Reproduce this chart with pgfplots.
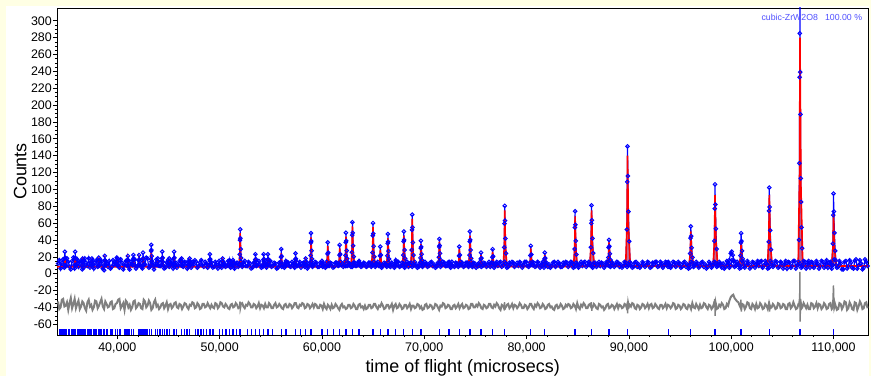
\documentclass[border=0pt]{standalone}
\usepackage{fontspec}
\setmainfont{Liberation Sans}
\usepackage{pgfplots}
\pgfplotsset{compat=1.18}
\usepackage{pgfplotstable}
\definecolor{bgyellow}{RGB}{255,255,228}
\definecolor{obsblue}{RGB}{0,0,255}
\definecolor{calcred}{RGB}{255,0,0}
\definecolor{diffgray}{RGB}{128,128,128}
\definecolor{phasefill}{RGB}{165,40,100}
\definecolor{labelblue}{RGB}{80,80,255}
\pgfplotstableread{
x o d
34200 12 -33
34325 16 -42
34450 6 -40
34575 13 -31
34700 17 -30
34825 7 -39
34950 9 -38
35075 18 -34
35200 14 -43
35325 8 -35
35450 5 -29
35575 15 -41
35700 19 -36
35825 6 -30
35950 11 -41
36075 17 -36
36200 8 -32
36325 14 -42
36450 15 -39
36575 5 -33
36700 7 -35
36825 18 -41
36950 13 -44
37075 9 -34
37200 18 -31
37325 7 -39
37450 10 -37
37575 16 -43
37700 6 -40
37825 13 -32
37950 16 -33
38075 8 -41
38200 9 -38
38325 17 -34
38450 14 -30
38575 6 -39
38700 4 -42
38825 15 -33
38950 12 -36
39075 8 -40
39200 15 -39
39325 6 -34
39450 8 -33
39575 16 -42
39700 11 -41
39825 14 -36
39950 19 -35
40075 9 -31
40200 7 -30
40325 17 -41
40450 13 -38
40575 5 -35
40700 10 -43
40825 15 -32
40950 16 -34
41075 8 -40
41200 5 -37
41325 14 -43
41450 12 -40
41575 18 -33
41700 17 -32
41825 6 -41
41950 9 -39
42075 16 -35
42200 14 -36
42325 8 -41
42450 6 -42
42575 15 -31
42700 11 -33
42825 19 -40
42950 18 -38
43075 7 -32
43200 8 -35
43325 14 -43
43450 13 -41
43575 5 -34
43700 10 -31
43825 17 -39
43950 15 -37
44075 9 -42
44200 9 -40
44325 15 -36
44450 14 -35
44575 6 -41
44700 7 -38
44825 13 -34
44950 16 -42
45075 8 -37
45200 11 -36
45325 15 -41
45450 6 -39
45575 12 -35
45700 13 -34
45825 7 -40
45950 10 -41
46075 15 -36
46200 17 -37
46325 9 -42
46450 8 -39
46575 14 -35
46700 12 -36
46825 6 -40
46950 15 -42
47075 9 -37
47200 7 -38
47325 14 -34
47450 11 -35
47575 16 -41
47700 14 -40
47825 7 -35
47950 9 -37
48075 13 -42
48200 16 -41
48325 10 -36
48450 8 -36
48575 14 -40
48700 12 -39
48825 7 -35
48950 10 -38
49075 15 -41
49200 13 -37
49325 7 -40
49450 8 -41
49575 14 -35
49700 11 -36
49825 6 -41
49950 15 -39
50075 9 -34
50200 7 -35
50325 14 -39
50450 12 -40
50575 8 -36
50700 9 -38
50825 15 -41
50950 14 -42
51075 7 -37
51200 10 -36
51325 13 -40
51450 6 -39
51575 12 -35
51700 13 -37
51825 8 -41
51950 11 -40
52075 14 -36
52200 8 -35
52325 13 -39
52450 15 -41
52575 9 -37
52700 9 -38
52825 14 -34
52950 12 -36
53075 6 -40
53200 7 -40
53325 13 -36
53450 14 -37
53575 9 -41
53700 10 -39
53825 15 -35
53950 11 -41
54075 7 -37
54200 8 -38
54325 14 -41
54450 13 -36
54575 7 -40
54700 10 -40
54825 14 -35
54950 15 -37
55075 8 -41
55200 9 -41
55325 13 -37
55450 12 -35
55575 6 -40
55700 7 -39
55825 13 -36
55950 14 -38
56075 8 -41
56200 11 -42
56325 7 -37
56450 9 -36
56575 14 -40
56700 13 -40
56825 9 -36
56950 8 -37
57075 14 -41
57200 12 -39
57325 7 -35
57450 15 -35
57575 9 -40
57700 10 -41
57825 14 -37
57950 7 -38
58075 12 -35
58200 13 -36
58325 8 -41
58450 11 -40
58575 6 -36
58700 9 -37
58825 13 -41
58950 14 -39
59075 8 -36
59200 10 -40
59325 14 -36
59450 13 -37
59575 8 -41
59700 8 -41
59825 13 -37
59950 12 -38
60075 8 -42
60200 11 -36
60325 7 -40
60450 14 -42
60575 9 -37
60700 9 -39
60825 13 -42
60950 12 -37
61075 7 -41
61200 8 -40
61325 13 -36
61450 13 -38
61575 9 -41
61700 10 -43
61825 14 -38
61950 11 -36
62075 8 -40
62200 14 -39
62325 9 -42
62450 9 -41
62575 13 -37
62700 12 -37
62825 8 -41
62950 8 -40
63075 13 -36
63200 13 -38
63325 9 -42
63450 10 -42
63575 14 -37
63700 12 -36
63825 8 -40
63950 9 -39
64075 13 -42
64200 12 -38
64325 8 -42
64450 9 -41
64575 13 -37
64700 13 -37
64825 8 -41
64950 10 -40
65075 14 -36
65200 8 -36
65325 12 -40
65450 14 -42
65575 9 -38
65700 11 -39
65825 7 -35
65950 9 -38
66075 13 -42
66200 12 -41
66325 8 -37
66450 13 -37
66575 9 -41
66700 8 -39
66825 13 -36
66950 11 -43
67075 7 -38
67200 10 -36
67325 14 -41
67450 14 -40
67575 8 -36
67700 9 -38
67825 13 -42
67950 12 -41
68075 7 -37
68200 11 -37
68325 14 -41
68450 8 -39
68575 12 -36
68700 13 -42
68825 8 -38
68950 10 -38
69075 14 -41
69200 11 -40
69325 7 -36
69450 8 -37
69575 13 -41
69700 13 -39
69825 8 -43
69950 10 -42
70075 14 -37
70200 12 -36
70325 8 -41
70450 9 -40
70575 13 -37
70700 14 -38
70825 9 -42
70950 11 -41
71075 7 -36
71200 8 -37
71325 13 -40
71450 12 -43
71575 8 -38
71700 10 -39
71825 14 -35
71950 13 -36
72075 9 -41
72200 9 -40
72325 13 -37
72450 11 -38
72575 7 -42
72700 14 -42
72825 9 -38
72950 8 -37
73075 13 -41
73200 12 -39
73325 8 -36
73450 10 -41
73575 14 -38
73700 13 -36
73825 8 -41
73950 9 -40
74075 13 -37
74200 13 -38
74325 8 -42
74450 10 -41
74575 14 -36
74700 8 -36
74825 13 -40
74950 12 -40
75075 7 -37
75200 11 -39
75325 9 -35
75450 14 -37
75575 8 -41
75700 9 -42
75825 13 -37
75950 12 -38
76075 8 -41
76200 10 -40
76325 14 -36
76450 8 -36
76575 13 -40
76700 13 -41
76825 7 -37
76950 11 -39
77075 14 -35
77200 9 -37
77325 13 -41
77450 14 -43
77575 8 -37
77700 10 -38
77825 14 -42
77950 12 -40
78075 7 -37
78200 8 -36
78325 13 -41
78450 11 -39
78575 14 -36
78700 13 -41
78825 8 -37
78950 10 -38
79075 13 -41
79200 9 -39
79325 14 -35
79450 12 -37
79575 7 -41
79700 10 -41
79825 14 -37
79950 14 -38
80075 9 -42
80200 8 -40
80325 13 -36
80450 11 -36
80575 14 -40
80700 13 -42
80825 8 -37
80950 9 -39
81075 14 -35
81200 12 -37
81325 7 -41
81450 10 -40
81575 14 -36
81700 7 -38
81825 12 -42
81950 13 -41
82075 8 -37
82200 11 -36
82325 7 -40
82450 9 -39
82575 13 -42
82700 14 -43
82825 8 -38
82950 10 -37
83075 14 -41
83200 12 -40
83325 8 -36
83450 8 -38
83575 13 -42
83700 11 -41
83825 14 -37
83950 13 -39
84075 8 -36
84200 10 -37
84325 14 -41
84450 13 -40
84575 7 -36
84700 8 -38
84825 13 -42
84950 12 -35
85075 7 -40
85200 11 -42
85325 14 -37
85450 9 -39
85575 13 -35
85700 14 -37
85825 8 -41
85950 10 -41
86075 14 -37
86200 12 -36
86325 9 -40
86450 7 -40
86575 13 -36
86700 13 -38
86825 8 -41
86950 10 -42
87075 14 -36
87200 9 -37
87325 13 -40
87450 12 -39
87575 7 -43
87700 11 -41
87825 14 -37
87950 14 -36
88075 9 -41
88200 8 -40
88325 13 -37
88450 12 -38
88575 8 -42
88700 10 -39
88825 14 -36
88950 13 -41
89075 8 -37
89200 11 -38
89325 7 -41
89450 9 -40
89575 14 -36
89700 13 -37
89825 8 -42
89950 10 -41
90075 14 -37
90200 12 -39
90325 7 -35
90450 8 -36
90575 13 -41
90700 14 -42
90825 8 -37
90950 11 -38
91075 7 -42
91200 9 -40
91325 14 -36
91450 12 -37
91575 8 -41
91700 10 -39
91825 14 -36
91950 13 -41
92075 7 -37
92200 8 -36
92325 13 -41
92450 11 -40
92575 14 -36
92700 14 -38
92825 8 -41
92950 9 -42
93075 14 -37
93200 12 -37
93325 7 -41
93450 10 -39
93575 14 -36
93700 13 -41
93825 8 -37
93950 11 -38
94075 7 -41
94200 9 -39
94325 14 -35
94450 13 -36
94575 8 -42
94700 10 -41
94825 14 -37
94950 12 -38
95075 7 -42
95200 8 -40
95325 13 -36
95450 14 -37
95575 8 -41
95700 11 -42
95825 6 -37
95950 7 -38
96075 14 -42
96200 13 -35
96325 8 -40
96450 10 -41
96575 14 -36
96700 12 -39
96825 7 -42
96950 9 -37
97075 13 -41
97200 14 -40
97325 8 -35
97450 11 -36
97575 6 -40
97700 8 -42
97825 14 -37
97950 12 -38
98075 7 -42
98200 10 -40
98325 14 -35
98450 13 -37
98575 8 -42
98700 9 -41
98825 14 -37
98950 12 -39
99075 7 -35
99200 12 -37
99325 6 -42
99450 8 -41
99575 15 -36
99700 13 -38
99825 7 -32
99950 10 -28
100075 16 -26
100200 15 -25
100325 8 -29
100450 9 -31
100575 14 -33
100700 11 -34
100825 6 -38
100950 7 -41
101075 15 -36
101200 14 -37
101325 7 -42
101450 10 -39
101575 15 -34
101700 12 -35
101825 6 -41
101950 8 -42
102075 14 -36
102200 13 -38
102325 7 -42
102450 11 -36
102575 15 -41
102700 9 -40
102825 14 -35
102950 15 -37
103075 7 -42
103200 10 -41
103325 15 -36
103450 12 -38
103575 6 -42
103700 7 -35
103825 15 -41
103950 13 -40
104075 8 -36
104200 10 -38
104325 15 -42
104450 14 -41
104575 7 -35
104700 8 -36
104825 14 -41
104950 12 -40
105075 6 -36
105200 11 -37
105325 15 -42
105450 6 -42
105575 14 -36
105700 13 -35
105825 7 -41
105950 9 -39
106075 15 -34
106200 15 -38
106325 6 -42
106450 10 -41
106575 14 -36
106700 12 -36
106825 7 -42
106950 8 -40
107075 15 -35
107200 14 -38
107325 6 -41
107450 11 -37
107575 15 -42
107700 7 -42
107825 14 -35
107950 13 -36
108075 7 -41
108200 10 -39
108325 15 -35
108450 12 -41
108575 6 -36
108700 9 -37
108825 15 -42
108950 14 -40
109075 7 -35
109200 11 -37
109325 16 -42
109450 7 -41
109575 13 -36
109700 14 -35
109825 6 -42
109950 10 -40
110075 17 -33
110200 16 -38
110325 7 -43
110450 8 -42
110575 15 -35
110700 12 -36
110825 5 -42
110950 5 -39
111075 14 -33
111200 15 -34
111325 6 -43
111450 9 -41
111575 16 -34
111700 13 -37
111825 7 -42
111950 6 -43
112075 15 -34
112200 17 -35
112325 6 -43
112450 10 -39
112575 16 -33
112700 12 -36
112825 5 -42
112950 7 -41
113075 17 -35
113200 14 -34
113325 9 -41
}\bgdata
\pgfplotstableread{
x y
34100 8
34776 8
34844 12.8
34866 20
34911 12.2
35001 8
35785 8
35853 12.4
35875 19
35920 11.9
36010 8
36554 8
36599 14
36689 8
37458 8
37503 13
37593 8
38146 8
38191 14
38281 8
38724 8
38769 15
38859 8
39966 8
40011 14
40101 8
40982 8
41027 16
41117 8
41518 8
41563 17
41653 8
42078 8
42123 16
42213 8
42419 8
42487 12.4
42509 19
42554 11.9
42644 8
43223 8
43291 15.6
43313 27
43358 14.7
43448 8
43903 8
43948 13
44038 8
44297 8
44365 13.2
44387 21
44432 12.6
44522 8
45025 8
45070 13
45160 8
45454 8
45522 13.2
45544 21
45589 12.6
45679 8
46240 8
46285 14
46375 8
47017 8
47062 13
47152 8
48932 8
49014 12
49042 18
49097 11.5
49207 8
50238 8
50293 14
50403 8
50900 8
50955 12
51065 8
51242 8
51297 12
51407 8
51891 8
51973 24
52001 48
52056 22
52166 8
53390 8
53472 12.4
53500 19
53555 11.9
53665 8
54190 8
54272 12.4
54300 19
54355 11.9
54465 8
54604 8
54686 12.4
54714 19
54769 11.9
54879 8
55906 8
55988 14.4
56016 24
56071 13.6
56181 8
56416 8
56471 12
56581 8
57305 8
57387 12.4
57415 19
57470 11.9
57580 8
58354 8
58409 14
58519 8
58816 8
58898 22
58926 43
58981 20.3
59091 8
59932 8.5
60002 12
60142 8.5
60422 8.5
60527 18.3
60562 33
60632 17.1
60772 8.5
61593 8.5
61698 17.1
61733 30
61803 16
61943 8.5
62204 8.5
62309 22.7
62344 44
62414 20.9
62554 8.5
62836 8.5
62941 27.5
62976 56
63046 25.1
63186 8.5
63555 8.5
63625 12
63765 8.5
64847 8.5
64952 27.1
64987 55
65057 24.8
65197 8.5
65563 8.5
65668 16.3
65703 28
65773 15.3
65913 8.5
66303 8.5
66408 21.9
66443 42
66513 20.2
66653 8.5
67137 8.5
67207 13
67347 8.5
67860 8.5
67965 23.1
68000 45
68070 21.3
68210 8.5
68680 8.5
68785 31.1
68820 65
68890 28.3
69030 8.5
69531 8.5
69636 19.1
69671 35
69741 17.8
69881 8.5
71335 8.5
71440 20.3
71475 38
71545 18.8
71685 8.5
72359 8.5
72429 11
72569 8.5
73285 8.5
73390 16.7
73425 29
73495 15.7
73635 8.5
74323 8.5
74428 23.1
74463 45
74533 21.3
74673 8.5
75405 8.5
75510 13.9
75545 22
75615 13.2
75755 8.5
76537 8.5
76642 15.5
76677 26
76747 14.6
76887 8.5
77723 8.5
77828 35.1
77863 75
77933 31.8
78073 8.5
80267 8.5
80372 17.1
80407 30
80477 16
80617 8.5
81637 8.5
81742 13.9
81777 22
81847 13.2
81987 8.5
84600 8.5
84705 32.3
84740 68
84810 29.3
84950 8.5
86171 9
86306 35.4
86351 75
86441 32.1
86621 9
87875 9
88010 20.2
88055 37
88145 18.8
88325 9
89685 9
89820 61.4
89865 140
89955 54.9
90135 9
93759 9
93849 12
94029 9
95871 9
96006 25.4
96051 50
96141 23.4
96321 9
98236 9
98371 42.6
98416 93
98506 38.4
98686 9
100785 9
100920 19.8
100965 36
101055 18.5
101235 9
103545 9
103680 42.6
103725 93
103815 38.4
103995 9
106544 9
106679 117.4
106724 280
106814 103.9
106994 9
109820 9
109955 33.4
110000 70
110090 30.4
110270 9
113400 9
}\calcdata
\begin{document}
\begin{tikzpicture}
\fill[bgyellow] (0,0) rectangle (871bp,376bp);
\fill[white] (6bp,0) rectangle (869bp,370bp);
\begin{axis}[
  at={(57bp,41bp)}, anchor=south west, scale only axis,
  width=811.3bp, height=327bp,
  xmin=34100, xmax=113400, ymin=-72.8, ymax=315.1,
  xtick={40000,50000,60000,70000,80000,90000,100000,110000},
  xticklabels={{40,000},{50,000},{60,000},{70,000},{80,000},{90,000},{100,000},{110,000}},
  ytick={-60,-40,-20,0,20,40,60,80,100,120,140,160,180,200,220,240,260,280,300},
  yticklabels={-60,-40,-20,0,20,40,60,80,100,120,140,160,180,200,220,240,260,280,300},
  minor x tick num=4, minor y tick num=3,
  scaled x ticks=false, scaled y ticks=false,
  tick align=outside, xtick pos=bottom, ytick pos=left,
  major tick length=4bp, minor tick length=2bp,
  tick style={black, line width=0.5pt},
  axis line style={black, line width=0.9pt},
  ticklabel style={font=\fontsize{12.5}{14}\selectfont},
  yticklabel style={inner xsep=1bp},
  label style={font=\fontsize{18}{20}\selectfont},
  xlabel={time of flight (microsecs)}, ylabel={Counts},
  clip=true,
]
% difference curve
\addplot[diffgray, line width=2pt] table[x=x, y=d] {\bgdata};
\addplot[diffgray, line width=1.4pt] coordinates {(51940,-38)(51990,-33)(52015,-42)(52080,-38)};
\addplot[diffgray, line width=1.4pt] coordinates {(77800,-38)(77845,-34)(77875,-43)(77930,-38)};
\addplot[diffgray, line width=1.4pt] coordinates {(86290,-38)(86330,-34)(86370,-44)(86430,-38)};
\addplot[diffgray, line width=1.4pt] coordinates {(89760,-38)(89840,-35)(89875,-47)(89920,-33)(90020,-39)};
\addplot[diffgray, line width=1.4pt] coordinates {(98300,-39)(98390,-30)(98430,-50)(98480,-33)(98600,-40)};
\addplot[diffgray, line width=1.4pt] coordinates {(100900,-38)(100950,-31)(100990,-45)(101060,-37)};
\addplot[diffgray, line width=1.4pt] coordinates {(103660,-38)(103705,-33)(103745,-45)(103810,-37)};
\addplot[diffgray, line width=1.4pt] coordinates {(106600,-38)(106690,-28)(106712,2)(106740,-57)(106775,-30)(106900,-40)};
\addplot[diffgray, line width=1.4pt] coordinates {(109920,-39)(109995,-14)(110030,-30)(110060,-42)(110150,-38)};
% reflection markers
\addplot[obsblue, only marks, mark=|, mark size=3pt, mark options={line width=1.3pt}] coordinates {
(110000,-69.5)(106724,-69.5)(103725,-69.5)(100965,-69.5)(98416,-69.5)(96051,-69.5)(93849,-69.5)(89865,-69.5)(88055,-69.5)(86351,-69.5)
(84740,-69.5)(81777,-69.5)(80407,-69.5)(77863,-69.5)(76677,-69.5)(75545,-69.5)(74463,-69.5)(73425,-69.5)(72429,-69.5)(71475,-69.5)
(69671,-69.5)(68820,-69.5)(68000,-69.5)(67207,-69.5)(66443,-69.5)(65703,-69.5)(64987,-69.5)(63625,-69.5)(62976,-69.5)(62344,-69.5)
(61733,-69.5)(61140,-69.5)(60562,-69.5)(60002,-69.5)(58926,-69.5)(58409,-69.5)(57906,-69.5)(57415,-69.5)(56471,-69.5)(56016,-69.5)
(55138,-69.5)(54714,-69.5)(54300,-69.5)(53895,-69.5)(53500,-69.5)(53113,-69.5)(52734,-69.5)(52001,-69.5)(51644,-69.5)(51297,-69.5)
(50955,-69.5)(50620,-69.5)(50293,-69.5)(49971,-69.5)(49346,-69.5)(49042,-69.5)(48744,-69.5)(48451,-69.5)(48163,-69.5)(47882,-69.5)
(47604,-69.5)(47062,-69.5)(46798,-69.5)(46540,-69.5)(46285,-69.5)(45787,-69.5)(45544,-69.5)(45070,-69.5)(44839,-69.5)(44611,-69.5)
(44387,-69.5)(44166,-69.5)(43948,-69.5)(43733,-69.5)(43313,-69.5)(43107,-69.5)(42905,-69.5)(42705,-69.5)(42509,-69.5)(42315,-69.5)
(42123,-69.5)(41563,-69.5)(41382,-69.5)(41203,-69.5)(41027,-69.5)(40852,-69.5)(40679,-69.5)(40341,-69.5)(40176,-69.5)(40011,-69.5)
(39850,-69.5)(39532,-69.5)(39375,-69.5)(39069,-69.5)(38918,-69.5)(38769,-69.5)(38623,-69.5)(38476,-69.5)(38333,-69.5)(38191,-69.5)
(37911,-69.5)(37773,-69.5)(37637,-69.5)(37503,-69.5)(37370,-69.5)(37237,-69.5)(37107,-69.5)(36851,-69.5)(36724,-69.5)(36599,-69.5)
(36475,-69.5)(36353,-69.5)(36232,-69.5)(36112,-69.5)(35875,-69.5)(35759,-69.5)(35643,-69.5)(35529,-69.5)(35303,-69.5)(35193,-69.5)
(34974,-69.5)(34866,-69.5)(34759,-69.5)(34653,-69.5)(34547,-69.5)(34444,-69.5)(34340,-69.5)};
% observed background
\addplot[obsblue, line width=1.2pt, mark=o, mark size=1.8pt, mark options={line width=1pt}] table[x=x, y=o] {\bgdata};
% observed peaks
\addplot[obsblue, line width=1.1pt, mark=o, mark size=1.8pt, mark options={line width=1pt}] coordinates {
(34798,10)(34848,18)(34866,26)(34898,18.8)(34956,10)
(35807,10)(35857,18)(35875,26)(35907,18.8)(35965,10)
(36531,10)(36581,14)(36599,18)(36631,14.4)(36689,10)
(37435,10)(37485,14)(37503,18)(37535,14.4)(37593,10)
(38123,10)(38173,14.5)(38191,19)(38223,15)(38281,10)
(38701,10)(38751,15.5)(38769,21)(38801,16)(38859,10)
(39943,10)(39993,14)(40011,18)(40043,14.4)(40101,10)
(40959,10)(41009,15.5)(41027,21)(41059,16)(41117,10)
(41495,10)(41545,16)(41563,22)(41595,16.6)(41653,10)
(42055,10)(42105,16)(42123,22)(42155,16.6)(42213,10)
(42441,10)(42491,17.5)(42509,25)(42541,18.3)(42599,10)
(43223,10)(43281,17.2)(43299,26.8)(43313,34)(43331,28)(43358,20.8)(43394,14.8)(43448,10)
(43880,10)(43930,14)(43948,18)(43980,14.4)(44038,10)
(44319,10)(44369,18)(44387,26)(44419,18.8)(44477,10)
(45002,10)(45052,14)(45070,18)(45102,14.4)(45160,10)
(45476,10)(45526,18)(45544,26)(45576,18.8)(45634,10)
(46217,10)(46267,14)(46285,18)(46317,14.4)(46375,10)
(46994,10)(47044,14)(47062,18)(47094,14.4)(47152,10)
(48959,10)(49020,16.5)(49042,23)(49081,17.2)(49152,10)
(50210,10)(50271,14)(50293,18)(50332,14.4)(50403,10)
(50872,10)(50933,13)(50955,16)(50994,13.3)(51065,10)
(51214,10)(51275,13)(51297,16)(51336,13.3)(51407,10)
(51891,10)(51962,22.8)(51984,39.8)(52001,52.5)(52023,41.9)(52056,29.1)(52100,18.5)(52166,10)
(53417,10)(53478,16.5)(53500,23)(53539,17.2)(53610,10)
(54217,10)(54278,16.5)(54300,23)(54339,17.2)(54410,10)
(54631,10)(54692,16.5)(54714,23)(54753,17.2)(54824,10)
(55933,10)(55994,19.5)(56016,29)(56055,20.5)(56126,10)
(56388,10)(56449,12.5)(56471,15)(56510,12.8)(56581,10)
(57332,10)(57393,17)(57415,24)(57454,17.7)(57525,10)
(58326,10)(58387,14)(58409,18)(58448,14.4)(58519,10)
(58816,10)(58887,21.4)(58909,36.6)(58926,48)(58948,38.5)(58981,27.1)(59025,17.6)(59091,10)
(59897,10)(59974,12.5)(60002,15)(60051,12.8)(60142,10)
(60457,10)(60534,23.5)(60562,37)(60611,24.9)(60702,10)
(61628,10)(61705,22)(61733,34)(61782,23.2)(61873,10)
(62204,10)(62295,21.6)(62323,37)(62344,48.5)(62372,38.9)(62414,27.3)(62470,17.7)(62554,10)
(62836,10)(62927,25.3)(62955,45.7)(62976,61)(63004,48.3)(63046,33)(63102,20.2)(63186,10)
(63520,10)(63597,12.5)(63625,15)(63674,12.8)(63765,10)
(64847,10)(64938,25)(64966,45)(64987,60)(65015,47.5)(65057,32.5)(65113,20)(65197,10)
(65598,10)(65675,21)(65703,32)(65752,22.1)(65843,10)
(66303,10)(66394,21.1)(66422,35.9)(66443,47)(66471,37.8)(66513,26.7)(66569,17.4)(66653,10)
(67102,10)(67179,13)(67207,16)(67256,13.3)(67347,10)
(67860,10)(67951,22)(67979,38)(68000,50)(68028,40)(68070,28)(68126,18)(68210,10)
(68680,10)(68771,28)(68799,52)(68820,70)(68848,55)(68890,37)(68946,22)(69030,10)
(69531,10)(69622,18.7)(69650,30.3)(69671,39)(69699,31.8)(69741,23.1)(69797,15.8)(69881,10)
(71335,10)(71426,19.3)(71454,31.7)(71475,41)(71503,33.3)(71545,24)(71601,16.2)(71685,10)
(72324,10)(72401,12)(72429,14)(72478,12.2)(72569,10)
(73320,10)(73397,21)(73425,32)(73474,22.1)(73565,10)
(74323,10)(74414,22)(74442,38)(74463,50)(74491,40)(74533,28)(74589,18)(74673,10)
(75440,10)(75517,17.5)(75545,25)(75594,18.3)(75685,10)
(76572,10)(76649,19.5)(76677,29)(76726,20.5)(76817,10)
(77723,10)(77814,31.2)(77842,59.4)(77863,80.5)(77891,62.9)(77933,41.7)(77989,24.1)(78073,10)
(80302,10)(80379,21.5)(80407,33)(80456,22.7)(80547,10)
(81672,10)(81749,17.5)(81777,25)(81826,18.3)(81917,10)
(84600,10)(84691,29.2)(84719,54.8)(84740,74)(84768,58)(84810,38.8)(84866,22.8)(84950,10)
(86171,10)(86288,31.3)(86324,59.7)(86351,81)(86387,63.3)(86441,41.9)(86513,24.2)(86621,10)
(87875,10)(87992,19)(88028,31)(88055,40)(88091,32.5)(88145,23.5)(88217,16)(88325,10)
(89685,10)(89802,52.3)(89838,108.7)(89865,151)(89901,115.8)(89955,73.5)(90027,38.2)(90135,10)
(93714,10)(93813,12)(93849,14)(93912,12.2)(94029,10)
(95871,10)(95988,23.8)(96024,42.2)(96051,56)(96087,44.5)(96141,30.7)(96213,19.2)(96321,10)
(98236,10)(98353,38.8)(98389,77.2)(98416,106)(98452,82)(98506,53.2)(98578,29.2)(98686,10)
(99600,10)(99800,16)(99950,24)(100050,26)(100150,22)(100300,15)(100500,10)
(100785,10)(100902,21.4)(100938,36.6)(100965,48)(101001,38.5)(101055,27.1)(101127,17.6)(101235,10)
(103545,10)(103662,37.6)(103698,74.4)(103725,102)(103761,79)(103815,51.4)(103887,28.4)(103995,10)
(106544,10)(106630,40)(106664,131)(106690,233)(106710,285)(106724,330)(106745,239)(106770,189)(106800,113)(106830,85)(106870,55)(106930,30)(106994,10)
(109820,10)(109937,35.5)(109973,69.5)(110000,95)(110036,73.8)(110090,48.3)(110162,27)(110270,10)};
% calculated: phase fill, then line
\addplot[fill=phasefill, fill opacity=0.7, draw=none, forget plot] table[x=x, y=y] {\calcdata};
\addplot[calcred, line width=1.6pt] table[x=x, y=y] {\calcdata};
\node[anchor=east, text=labelblue, font=\fontsize{8.8}{10}\selectfont, inner sep=0pt] at (rel axis cs:0.9926,0.970) {cubic-ZrW2O8\hspace{7bp}100.00 \%};
\end{axis}
\pgfresetboundingbox
\path[use as bounding box] (0,0) rectangle (871bp,376bp);
\end{tikzpicture}
\end{document}
